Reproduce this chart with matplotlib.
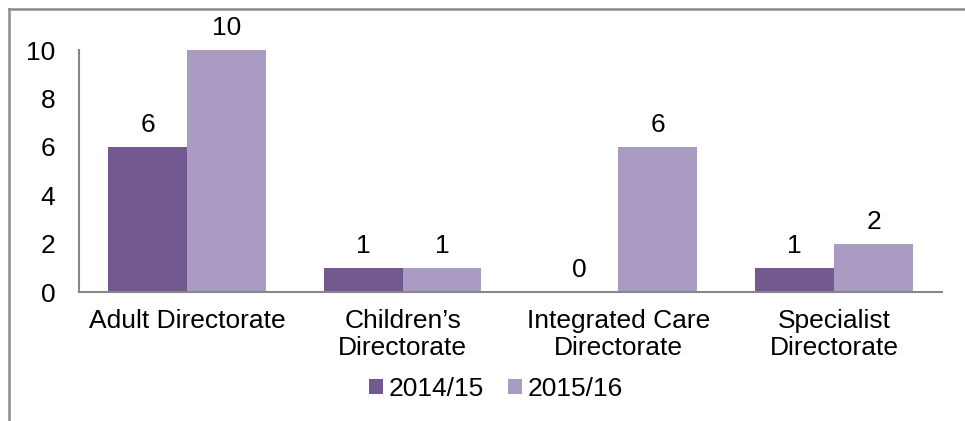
import matplotlib.pyplot as plt
from matplotlib.lines import Line2D
import numpy as np

plt.rcParams['font.family'] = ['Liberation Sans', 'DejaVu Sans']

categories = ["Adult Directorate", "Children\u2019s\nDirectorate",
              "Integrated Care\nDirectorate", "Specialist\nDirectorate"]
series_names = ["2014/15", "2015/16"]
values_1415 = [6, 1, 0, 1]
values_1516 = [10, 1, 6, 2]
colors = ["#72598F", "#A99BC1"]
y_ticks = [0, 2, 4, 6, 8, 10]

fig = plt.figure(figsize=(9.65, 4.21), dpi=100)
ax = fig.add_axes([0.0819, 0.3064, 0.8943, 0.5748])

x = np.arange(len(categories))
w = 0.365
for i, (vals, name) in enumerate(zip([values_1415, values_1516], series_names)):
    pos = x + (i - 0.5) * w
    bars = ax.bar(pos, vals, width=w, color=colors[i], label=name)
    for xi, v in zip(pos, vals):
        ax.annotate(str(v), (xi, v), xytext=(0, 7), textcoords="offset points",
                    ha="center", va="bottom", fontsize=19)

ax.set_xlim(-0.5, len(categories) - 0.5)
ax.set_ylim(0, 10)
ax.set_yticks(y_ticks)
ax.set_xticks(x)
ax.set_xticklabels(categories, fontsize=19, linespacing=1.2)
ax.tick_params(axis="y", length=0, pad=17, labelsize=19)
ax.tick_params(axis="x", length=0, pad=12)
for s in ["top", "right"]:
    ax.spines[s].set_visible(False)
for s in ["left", "bottom"]:
    ax.spines[s].set_color("#878787")
    ax.spines[s].set_linewidth(1.5)

ax.legend(loc="center", bbox_to_anchor=(0.483, -0.40), ncol=2, frameon=False,
          fontsize=19, handlelength=0.55, handleheight=0.55,
          handletextpad=0.2, columnspacing=0.9, borderpad=0)

# outer chart frame
fig.add_artist(Line2D([9 / 965, 1.0], [1 - 9 / 421] * 2, color="#8C8C8C",
                      lw=1.8, transform=fig.transFigure))
fig.add_artist(Line2D([9 / 965] * 2, [0, 1 - 9 / 421], color="#8C8C8C",
                      lw=1.8, transform=fig.transFigure))

fig.savefig("out.png", dpi=100)
